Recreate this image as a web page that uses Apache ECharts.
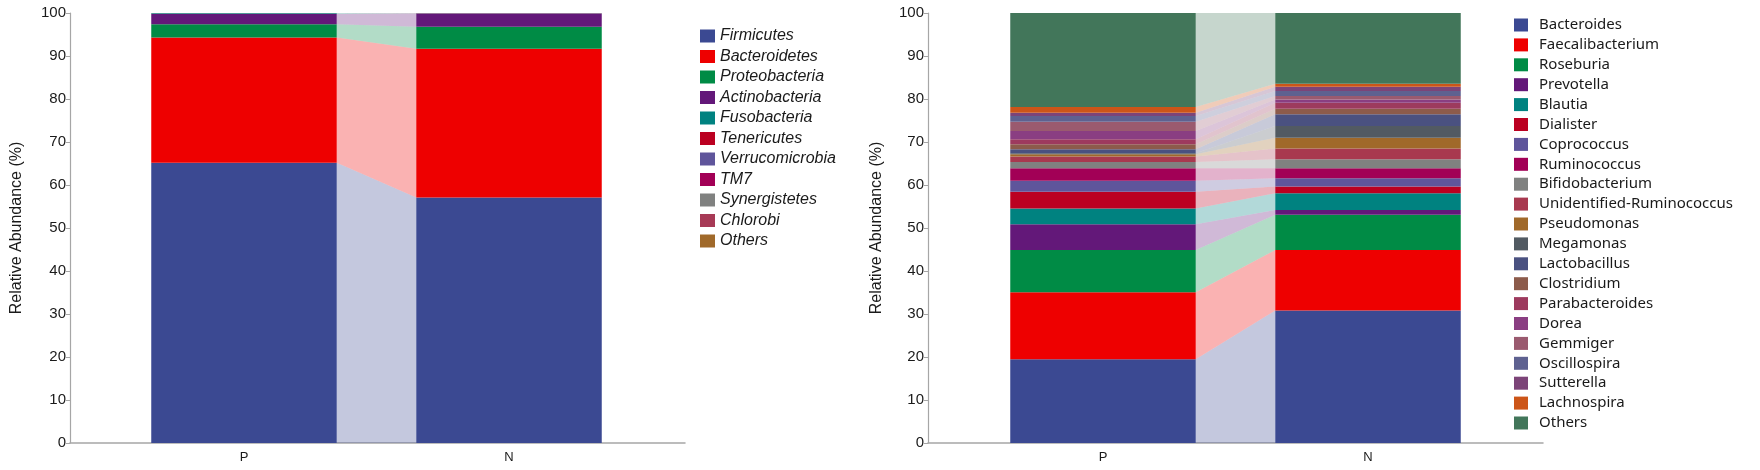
<!DOCTYPE html>
<html>
<head>
<meta charset="utf-8">
<title>Relative abundance</title>
<script src="https://cdn.jsdelivr.net/npm/echarts@6/dist/echarts.min.js"></script>
<style>
  html, body { margin: 0; padding: 0; background: #fff; }
  #chart { width: 1760px; height: 470px; }
</style>
</head>
<body>
<div id="chart"></div>
<script>
// -------------------------------------------------------------
// Data (in %)
// -------------------------------------------------------------
const groups = ['P', 'N'];
const yTicks = { min: 0, max: 100, interval: 10 };

// phylum level (left panel), stacked bottom -> top
const phylumNames = ['Firmicutes', 'Bacteroidetes', 'Proteobacteria', 'Actinobacteria', 'Fusobacteria',
    'Tenericutes', 'Verrucomicrobia', 'TM7', 'Synergistetes', 'Chlorobi', 'Others'];
const phylumColors = ['#3B4992', '#EE0000', '#008B45', '#631879', '#008280',
    '#BB0021', '#5F559B', '#A20056', '#808180', '#A73A56', '#A0692A'];
const phylumP = [65.2, 29.1, 3.1, 2.38, 0.15, 0.02, 0.01, 0.01, 0.005, 0.005, 0.01];
const phylumN = [57.1, 34.6, 5.1, 3.05, 0.05, 0.02, 0.06, 0.01, 0.005, 0.005, 0.01];

// genus level (right panel), stacked bottom -> top
const genusNames = ['Bacteroides', 'Faecalibacterium', 'Roseburia', 'Prevotella', 'Blautia', 'Dialister',
    'Coprococcus', 'Ruminococcus', 'Bifidobacterium', 'Unidentified-Ruminococcus', 'Pseudomonas',
    'Megamonas', 'Lactobacillus', 'Clostridium', 'Parabacteroides', 'Dorea', 'Gemmiger',
    'Oscillospira', 'Sutterella', 'Lachnospira', 'Others'];
const genusColors = ['#3B4992', '#EE0000', '#008B45', '#631879', '#008280', '#BB0021',
    '#5F559B', '#A20056', '#808180', '#A8394F', '#A0692A',
    '#525A62', '#4A5180', '#8C5B4B', '#9D3A5E', '#8A3E82', '#9A5A6F',
    '#5E6190', '#7C4478', '#CC5518', '#42765A'];
const genusP = [19.5, 15.55, 9.82, 6.03, 3.64, 3.91, 2.51, 2.94, 1.47, 1.23, 0.55,
    0.23, 0.93, 1.16, 1.16, 1.93, 2.17, 1.31, 0.78, 1.31, 21.87];
const genusN = [30.8, 14.07, 8.19, 1.14, 3.9, 1.54, 1.94, 2.32, 2.09, 2.47, 2.55,
    2.71, 2.71, 1.31, 1.39, 0.77, 0.78, 1.16, 1.01, 0.69, 16.46];

// -------------------------------------------------------------
// Helpers
// -------------------------------------------------------------
const axisGrey = '#A6A6A6';
const textColor = '#1A1A1A';
const BAR_FRACTION = 0.7;

// cumulative [low, high] for each segment
function segments(values) {
    let acc = 0;
    return values.map(v => {
        const seg = [acc, acc + v];
        acc += v;
        return seg;
    });
}

// pale bands joining each segment of P to the same segment of N
function ribbonSeries(gridAxis, pVals, nVals, colors) {
    const segP = segments(pVals);
    const segN = segments(nVals);
    const data = segP.map((s, i) => [0, s[0], s[1], segN[i][0], segN[i][1]]);
    return {
        type: 'custom',
        xAxisIndex: gridAxis,
        yAxisIndex: gridAxis,
        silent: true,
        encode: { x: 0, y: [1, 2, 3, 4] },
        data: data,
        renderItem: function (params, api) {
            const half = api.size([1, 0])[0] * BAR_FRACTION / 2;
            const pLow = api.coord([0, api.value(1)]);
            const pHigh = api.coord([0, api.value(2)]);
            const nLow = api.coord([1, api.value(3)]);
            const nHigh = api.coord([1, api.value(4)]);
            return {
                type: 'polygon',
                shape: {
                    points: [
                        [pLow[0] + half, pLow[1]],
                        [pHigh[0] + half, pHigh[1]],
                        [nHigh[0] - half, nHigh[1]],
                        [nLow[0] - half, nLow[1]]
                    ]
                },
                style: { fill: colors[params.dataIndex], opacity: 0.3 }
            };
        }
    };
}

function barSeries(gridAxis, stackName, names, colors, pVals, nVals) {
    return names.map((name, i) => ({
        name: name,
        type: 'bar',
        stack: stackName,
        xAxisIndex: gridAxis,
        yAxisIndex: gridAxis,
        barWidth: (BAR_FRACTION * 100) + '%',
        itemStyle: { color: colors[i] },
        emphasis: { disabled: true },
        data: [pVals[i], nVals[i]]
    }));
}

// -------------------------------------------------------------
// Layout: per panel one grid for the axes, one for the bars
// -------------------------------------------------------------
const gridTop = 13;
const gridHeight = 430;

const grids = [
    { left: 70, top: gridTop, width: 615, height: gridHeight },   // left axes
    { left: 111.5, top: gridTop, width: 530, height: gridHeight }, // left bars
    { left: 928, top: gridTop, width: 615, height: gridHeight },  // right axes
    { left: 970.5, top: gridTop, width: 530, height: gridHeight } // right bars
];

function axisX(gridIndex) {
    return {
        type: 'category', gridIndex: gridIndex, data: [''],
        axisLine: { lineStyle: { color: axisGrey, width: 1.5 } },
        axisTick: { show: false }, axisLabel: { show: false }
    };
}
function barX(gridIndex) {
    return {
        type: 'category', gridIndex: gridIndex, data: groups,
        axisLine: { show: false }, axisTick: { show: false },
        axisLabel: { color: textColor, fontSize: 13, fontFamily: 'Liberation Sans', margin: 8 }
    };
}
function axisY(gridIndex, nameGap) {
    return {
        type: 'value', gridIndex: gridIndex,
        min: yTicks.min, max: yTicks.max, interval: yTicks.interval,
        name: 'Relative Abundance (%)', nameLocation: 'middle', nameGap: nameGap,
        nameTextStyle: { color: textColor, fontSize: 16, fontFamily: 'Liberation Sans' },
        axisLine: { show: true, lineStyle: { color: axisGrey, width: 1.2 } },
        axisTick: { show: true, length: 4, lineStyle: { color: axisGrey } },
        axisLabel: { color: textColor, fontSize: 15, fontFamily: 'Liberation Sans', margin: 4 },
        splitLine: { show: false }
    };
}
function barY(gridIndex) {
    return {
        type: 'value', gridIndex: gridIndex,
        min: yTicks.min, max: yTicks.max, interval: yTicks.interval,
        show: false, splitLine: { show: false }
    };
}

const option = {
    animation: false,
    backgroundColor: '#fff',
    grid: grids,
    xAxis: [axisX(0), barX(1), axisX(2), barX(3)],
    yAxis: [axisY(0, 45), barY(1), axisY(2, 43), barY(3)],
    legend: [
        {
            orient: 'vertical', left: 695, top: 23,
            icon: 'rect', itemWidth: 15, itemHeight: 13, itemGap: 4.5,
            selectedMode: false,
            textStyle: { color: textColor, fontSize: 16, fontStyle: 'italic',
                fontFamily: 'Liberation Sans', lineHeight: 16 },
            data: phylumNames.map((n, i) => ({ name: n, itemStyle: { color: phylumColors[i] } }))
        },
        {
            orient: 'vertical', left: 1509, top: 12,
            icon: 'rect', itemWidth: 14, itemHeight: 13, itemGap: 3.9,
            selectedMode: false,
            textStyle: { color: textColor, fontSize: 15, fontFamily: 'Noto Sans',
                lineHeight: 16, padding: [0, 0, 0, 6] },
            data: genusNames.map((n, i) => ({ name: n, itemStyle: { color: genusColors[i] } }))
        }
    ],
    series: [].concat(
        barSeries(1, 'phylum', phylumNames, phylumColors, phylumP, phylumN),
        [ribbonSeries(1, phylumP, phylumN, phylumColors)],
        barSeries(3, 'genus', genusNames, genusColors, genusP, genusN),
        [ribbonSeries(3, genusP, genusN, genusColors)]
    )
};

const myChart = echarts.init(document.getElementById('chart'));
myChart.setOption(option);
window.addEventListener('resize', function () { myChart.resize(); });
</script>
</body>
</html>
